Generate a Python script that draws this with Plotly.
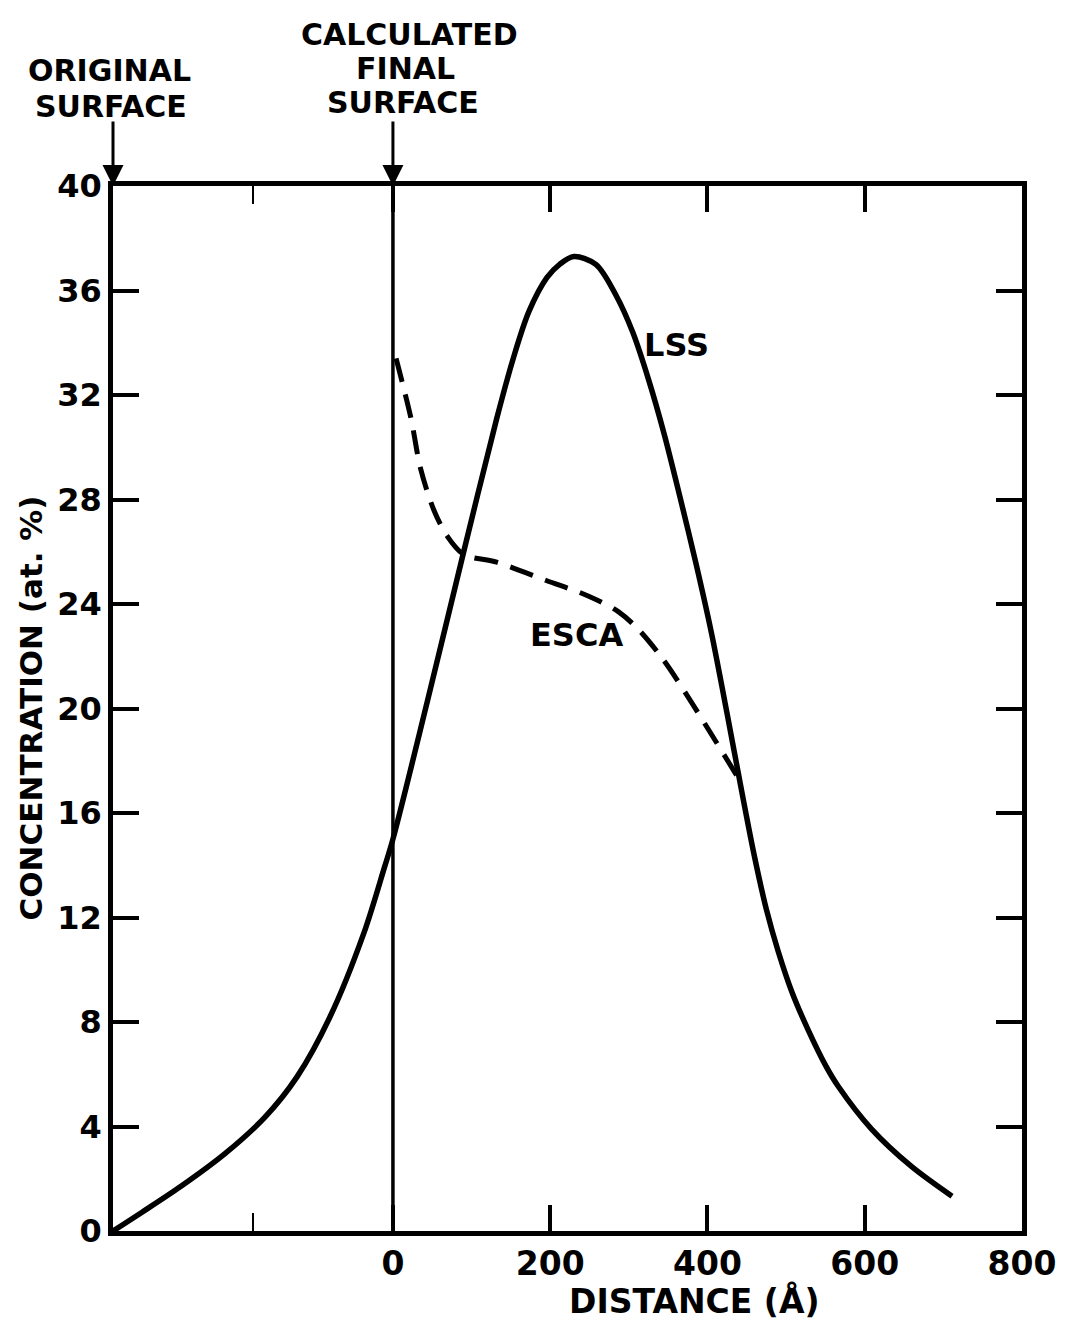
import plotly.graph_objects as go

# LSS calculated profile (distance in Å, concentration at.%)
lss_x = [-356, -320, -270, -214, -163, -122, -80, -37, -11, 0, 44, 90, 132, 153, 173, 196,
         212, 230, 258, 284, 305, 325, 345, 365, 385, 405, 425, 445, 460, 475, 490, 508, 528,
         550, 566, 609, 659, 711]
lss_y = [0.0, 0.7, 1.7, 2.95, 4.35, 5.9, 8.2, 11.4, 13.9, 15.0, 20.3, 26.0, 31.1, 33.4, 35.2, 36.5,
         37.0, 37.3, 37.0, 35.8, 34.4, 32.6, 30.5, 28.1, 25.6, 22.9, 19.8, 16.6, 14.3, 12.3, 10.7, 9.1, 7.7,
         6.35, 5.55, 3.89, 2.48, 1.33]

# ESCA measured profile
esca_x = [4, 23, 35, 52, 69, 90, 132, 195, 249, 287, 313, 343, 372, 440]
esca_y = [33.4, 31.1, 29.2, 27.6, 26.6, 25.9, 25.6, 24.9, 24.3, 23.7, 23.0, 21.9, 20.6, 17.3]

x_ticks = [0, 200, 400, 600, 800]
x_ticktext = ["0", "200", "400", "600", "800"]
y_ticks = [0, 4, 8, 12, 16, 20, 24, 28, 32, 36, 40]
x_range = [-356, 800]
y_range = [0, 40]
original_surface = -356
final_surface = 0

FONT = "DejaVu Sans"
BLACK = "black"

fig = go.Figure()
fig.add_trace(go.Scatter(x=lss_x, y=lss_y, mode="lines", name="LSS",
                         line=dict(color=BLACK, width=5.5, shape="spline", smoothing=0.9)))
fig.add_trace(go.Scatter(x=esca_x, y=esca_y, mode="lines", name="ESCA",
                         line=dict(color=BLACK, width=5, shape="spline", smoothing=0.9,
                                   dash="24px,13px")))

# calculated final surface line
fig.add_shape(type="line", xref="x", yref="paper", x0=final_surface, x1=final_surface,
              y0=0, y1=1, line=dict(color=BLACK, width=3.5))

# arrows
for xv in [original_surface, final_surface]:
    fig.add_annotation(x=xv, y=40, xref="x", yref="y", ax=0, ay=-66, text="",
                       showarrow=True, arrowhead=2, arrowsize=1.4, arrowwidth=3,
                       arrowcolor=BLACK)

tfont = dict(family=FONT, size=30, color=BLACK, weight="bold")
top_lines = [
    (original_surface, -4, 116, "ORIGINAL"),
    (original_surface, -2, 80, "SURFACE"),
    (final_surface, 17, 152, "CALCULATED"),
    (final_surface, 13, 118, "FINAL"),
    (final_surface, 10, 84, "SURFACE"),
]
for xv, xs, ys, txt in top_lines:
    fig.add_annotation(x=xv, y=1, xref="x", yref="paper", xshift=xs, yshift=ys,
                       text=txt, showarrow=False, font=tfont,
                       xanchor="center", yanchor="middle")

lfont = dict(family=FONT, size=32, color=BLACK, weight="bold")
fig.add_annotation(x=360, y=33.9, text="LSS", showarrow=False, font=lfont)
fig.add_annotation(x=234, y=22.8, text="ESCA", showarrow=False, font=lfont)

# axis titles
fig.add_annotation(x=384, y=0, xref="x", yref="paper", yshift=-70,
                   text="DISTANCE (Å)", showarrow=False,
                   font=dict(family=FONT, size=33, color=BLACK, weight="bold"),
                   xanchor="center", yanchor="middle")
fig.add_annotation(x=0, y=0.5, xref="paper", yref="paper", xshift=-83,
                   text="CONCENTRATION (at. %)", showarrow=False, textangle=-90,
                   font=dict(family=FONT, size=31, color=BLACK, weight="bold"),
                   xanchor="center", yanchor="middle")

fig.update_layout(
    width=1060, height=1318,
    margin=dict(l=105, r=40, t=178, b=95),
    paper_bgcolor="white", plot_bgcolor="white",
    showlegend=False,
    font=dict(family=FONT, color=BLACK),
)
fig.update_xaxes(
    range=x_range, tickmode="array", tickvals=x_ticks, ticktext=x_ticktext,
    ticks="inside", ticklen=26, tickwidth=4, tickcolor=BLACK,
    showline=True, linewidth=4.5, linecolor=BLACK, mirror="ticks",
    showgrid=False, zeroline=False, ticklabelstandoff=0, ticklabeloverflow="allow",
    tickfont=dict(family=FONT, size=33, color=BLACK, weight="bold"),
    minor=dict(tickmode="array", tickvals=[-178], ticks="inside", ticklen=18,
               tickwidth=1.5, tickcolor=BLACK, showgrid=False),
)
fig.update_yaxes(
    range=y_range, tickmode="array", tickvals=y_ticks,
    ticks="inside", ticklen=26, tickwidth=4, tickcolor=BLACK,
    showline=True, linewidth=4.5, linecolor=BLACK, mirror="ticks",
    showgrid=False, zeroline=False, ticklabelstandoff=0, ticklabeloverflow="allow",
    tickfont=dict(family=FONT, size=32, color=BLACK, weight="bold"),
)

fig.write_html("out.html")
